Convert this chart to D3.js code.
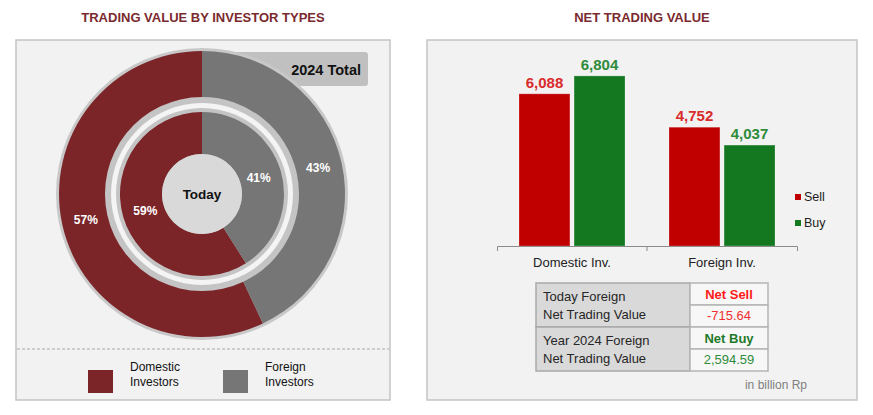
<html>
<head>
    <script src="https://cdn.jsdelivr.net/npm/d3@7/dist/d3.min.js" charset="utf-8"></script>
    <style>
        body { margin: 0; background: #fff; }
        text { font-family: "Liberation Sans", Arial, sans-serif; }
    </style>
</head>

<body>
    <script type="text/javascript">
        // Chart data
        var investorTypes = ["Domestic Investors", "Foreign Investors"];
        var todayShare = [59, 41];
        var yearShare = [57, 43];
        var categories = ["Domestic Inv.", "Foreign Inv."];
        var sides = ["Sell", "Buy"];
        var sellValues = [6088, 4752];
        var buyValues = [6804, 4037];
        var tableLabels = [["Today Foreign", "Net Trading Value"], ["Year 2024 Foreign", "Net Trading Value"]];
        var tableStatus = ["Net Sell", "Net Buy"];
        var tableValues = ["-715.64", "2,594.59"];

        var width = 873;
        var height = 415;

        var typeColor = d3.scaleOrdinal().domain(investorTypes).range(["#7b2529", "#767676"]);
        var sideColor = d3.scaleOrdinal().domain(sides).range(["#c00000", "#13781f"]);
        var labelColor = d3.scaleOrdinal().domain(sides).range(["#d92b2b", "#2e8b3a"]);

        var svg = d3.select("body").append("svg")
            .attr("width", width)
            .attr("height", height);

        // Panels
        svg.append("rect").attr("x", 16).attr("y", 40).attr("width", 374).attr("height", 360)
            .attr("fill", "#f2f2f2").attr("stroke", "#c3c3c3").attr("stroke-width", 1.5);
        svg.append("rect").attr("x", 427).attr("y", 40).attr("width", 430).attr("height", 360)
            .attr("fill", "#f2f2f2").attr("stroke", "#c3c3c3").attr("stroke-width", 1.5);

        svg.append("text").attr("x", 203).attr("y", 22).attr("text-anchor", "middle")
            .attr("font-size", 13).attr("font-weight", "bold").attr("fill", "#7a2a2e")
            .text("TRADING VALUE BY INVESTOR TYPES");
        svg.append("text").attr("x", 642).attr("y", 22).attr("text-anchor", "middle")
            .attr("font-size", 13).attr("font-weight", "bold").attr("fill", "#7a2a2e")
            .text("NET TRADING VALUE");

        // ---- Donut panel ----
        var cx = 202, cy = 194;

        // "2024 Total" tag sits behind the outer ring
        var totalBox = svg.append("g");
        totalBox.append("rect").attr("x", 224).attr("y", 52).attr("width", 144).attr("height", 34)
            .attr("rx", 3).attr("fill", "#c0c0c0");
        totalBox.append("text").attr("x", 361).attr("y", 75).attr("text-anchor", "end")
            .attr("font-size", 14.5).attr("font-weight", "bold").attr("fill", "#111")
            .text("2024 Total");

        var donut = svg.append("g").attr("transform", "translate(" + cx + "," + cy + ")");

        // ring borders
        donut.append("circle").attr("r", 146).attr("fill", "#c8c8c8");
        donut.append("circle").attr("r", 97).attr("fill", "#c4c4c4");
        donut.append("circle").attr("r", 91).attr("fill", "#f4f4f4");
        donut.append("circle").attr("r", 86).attr("fill", "#c4c4c4");

        function pieFor(share) {
            return d3.pie().sort(null).value(d => d.value)
                .startAngle(-2 * Math.PI * share[0] / 100)
                .endAngle(2 * Math.PI - 2 * Math.PI * share[0] / 100)(
                    investorTypes.map((t, i) => ({ type: t, value: share[i] }))
                );
        }

        var outerArc = d3.arc().innerRadius(97).outerRadius(143);
        var innerArc = d3.arc().innerRadius(40).outerRadius(82);

        donut.append("g").selectAll("path")
            .data(pieFor(yearShare))
            .join("path")
            .attr("d", outerArc)
            .attr("fill", d => typeColor(d.data.type));

        donut.append("g").selectAll("path")
            .data(pieFor(todayShare))
            .join("path")
            .attr("d", innerArc)
            .attr("fill", d => typeColor(d.data.type));

        donut.append("circle").attr("r", 40).attr("fill", "#d9d9d9");
        donut.append("text").attr("y", 5).attr("text-anchor", "middle")
            .attr("font-size", 13.5).attr("font-weight", "bold").attr("fill", "#111")
            .text("Today");

        var outerLabel = d3.arc().innerRadius(119).outerRadius(119);
        var innerLabel = d3.arc().innerRadius(59).outerRadius(59);

        donut.append("g").selectAll("text")
            .data(pieFor(yearShare))
            .join("text")
            .attr("transform", d => "translate(" + outerLabel.centroid(d) + ")")
            .attr("dy", "0.35em")
            .attr("text-anchor", "middle")
            .attr("font-size", 12).attr("font-weight", "bold").attr("fill", "#fff")
            .text(d => d.value + "%");

        donut.append("g").selectAll("text")
            .data(pieFor(todayShare))
            .join("text")
            .attr("transform", d => "translate(" + innerLabel.centroid(d) + ")")
            .attr("dy", "0.35em")
            .attr("text-anchor", "middle")
            .attr("font-size", 12).attr("font-weight", "bold").attr("fill", "#fff")
            .text(d => d.value + "%");

        // legend
        svg.append("line").attr("x1", 17).attr("x2", 389).attr("y1", 349).attr("y2", 349)
            .attr("stroke", "#aaa").attr("stroke-dasharray", "3,2");

        var legend = svg.append("g").selectAll("g")
            .data(investorTypes)
            .join("g")
            .attr("transform", (d, i) => "translate(" + (88 + i * 135) + ",370)");
        legend.append("rect").attr("width", 25).attr("height", 23)
            .attr("fill", d => typeColor(d));
        legend.append("text").attr("x", 42).attr("y", 1)
            .attr("font-size", 12).attr("fill", "#111")
            .selectAll("tspan")
            .data(d => d.split(" "))
            .join("tspan")
            .attr("x", 42)
            .attr("dy", (d, i) => i ? 15 : 0)
            .text(d => d);

        // ---- Bar panel ----
        var x = d3.scaleBand().domain(categories).range([497, 797]);
        var xSide = d3.scaleBand().domain(sides).range([22, 128]).paddingInner(0.075);
        var y = d3.scaleLinear().domain([0, 8000]).range([246, 46]);

        var barData = [];
        categories.forEach((c, i) => {
            barData.push({ cat: c, side: "Sell", value: sellValues[i] });
            barData.push({ cat: c, side: "Buy", value: buyValues[i] });
        });

        var bars = svg.append("g");
        bars.selectAll("rect")
            .data(barData)
            .join("rect")
            .attr("x", d => x(d.cat) + xSide(d.side))
            .attr("y", d => y(d.value))
            .attr("width", xSide.bandwidth())
            .attr("height", d => y(0) - y(d.value))
            .attr("fill", d => sideColor(d.side))
            .attr("stroke", "rgba(255,255,255,0.25)");

        bars.selectAll("text")
            .data(barData)
            .join("text")
            .attr("x", d => x(d.cat) + xSide(d.side) + xSide.bandwidth() / 2)
            .attr("y", d => y(d.value) - 6)
            .attr("text-anchor", "middle")
            .attr("font-size", 15).attr("font-weight", "bold")
            .attr("fill", d => labelColor(d.side))
            .text(d => d3.format(",")(d.value));

        var axis = svg.append("g")
            .attr("transform", "translate(0," + y(0) + ")")
            .call(d3.axisBottom(x).tickSizeInner(0).tickSizeOuter(5).tickPadding(12));
        axis.select(".domain").attr("stroke", "#8c8c8c");
        axis.selectAll(".tick text").attr("font-size", 13).attr("fill", "#222")
            .attr("font-family", "Liberation Sans, Arial, sans-serif");
        axis.append("line")
            .attr("x1", x(categories[1])).attr("x2", x(categories[1]))
            .attr("y1", 0).attr("y2", 5).attr("stroke", "#8c8c8c");

        var sideLegend = svg.append("g").selectAll("g")
            .data(sides)
            .join("g")
            .attr("transform", (d, i) => "translate(795," + (197 + i * 26) + ")");
        sideLegend.append("rect").attr("y", -3).attr("width", 6).attr("height", 6)
            .attr("fill", d => sideColor(d));
        sideLegend.append("text").attr("x", 9).attr("dy", "0.35em")
            .attr("font-size", 12.5).attr("fill", "#222")
            .text(d => d);

        // ---- Net trading table ----
        var table = svg.append("g");
        var tx = 536, tMid = 690, tRight = 768, tTop = 283, rowH = 44;

        tableLabels.forEach((lines, i) => {
            var top = tTop + i * rowH;
            table.append("rect").attr("x", tx).attr("y", top).attr("width", tMid - tx).attr("height", rowH)
                .attr("fill", "#d9d9d9").attr("stroke", "#a9a9a9").attr("stroke-width", 1.5);
            table.append("rect").attr("x", tMid).attr("y", top).attr("width", tRight - tMid).attr("height", rowH / 2)
                .attr("fill", "#f7f7f7").attr("stroke", "#b5b5b5").attr("stroke-width", 1.5);
            table.append("rect").attr("x", tMid).attr("y", top + rowH / 2).attr("width", tRight - tMid).attr("height", rowH / 2)
                .attr("fill", "#f7f7f7").attr("stroke", "#b5b5b5").attr("stroke-width", 1.5);

            lines.forEach((line, j) => {
                table.append("text").attr("x", 543).attr("y", top + 18 + j * 17.5)
                    .attr("font-size", 13).attr("fill", "#262626")
                    .text(line);
            });

            var col = i === 0 ? "#ff1a1a" : "#1e7a2a";
            var valCol = i === 0 ? "#f03030" : "#2e8b3a";
            table.append("text").attr("x", (tMid + tRight) / 2).attr("y", top + 16)
                .attr("text-anchor", "middle").attr("font-size", 13).attr("font-weight", "bold")
                .attr("fill", col).text(tableStatus[i]);
            table.append("text").attr("x", (tMid + tRight) / 2).attr("y", top + 36.5)
                .attr("text-anchor", "middle").attr("font-size", 13)
                .attr("fill", valCol).text(tableValues[i]);
        });

        svg.append("text").attr("x", 807).attr("y", 389).attr("text-anchor", "end")
            .attr("font-size", 12).attr("fill", "#7f7f7f")
            .text("in billion Rp");
    </script>
</body>

</html>
